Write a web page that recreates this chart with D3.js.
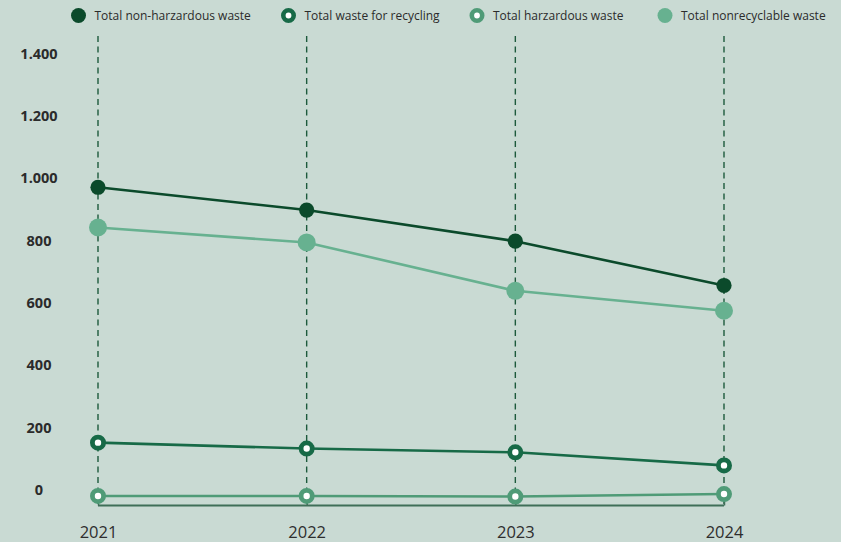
<!DOCTYPE html>
<html>
<head>
<meta charset="utf-8">
<script src="https://cdn.jsdelivr.net/npm/d3@7/dist/d3.min.js"></script>
<style>
  html, body { margin: 0; padding: 0; background: #c9dad3; }
  svg { display: block; }
</style>
</head>
<body>
<div id="plot"></div>
<script>
'use strict';

const years = ['2021', '2022', '2023', '2024'];
const yTicks = [0, 200, 400, 600, 800, 1000, 1200, 1400];
const nonHazardous = [995, 922, 822, 680];
const recycling = [176, 157, 145, 103];
const hazardous = [5, 5, 3, 11];
const nonRecyclable = [866, 818, 663, 599];

const col = {
  nonHaz: '#0b4a2b',
  recyc: '#176a47',
  haz: '#4f9b77',
  nonRec: '#67b190'
};

const width = 841, height = 542;
const svg = d3.select('#plot').append('svg')
  .attr('width', width)
  .attr('height', height);

svg.append('rect')
  .attr('width', width)
  .attr('height', height)
  .attr('fill', '#c9dad3');

const x = d3.scalePoint()
  .domain(years)
  .range([98, 724]);

const y = d3.scaleLinear()
  .domain([0, 1400])
  .range([497.5, 61]);

// dashed year guides
svg.append('g')
  .selectAll('line')
  .data(years)
  .enter()
  .append('line')
  .attr('x1', d => x(d))
  .attr('x2', d => x(d))
  .attr('y1', 36)
  .attr('y2', 505)
  .attr('stroke', '#1d5a3c')
  .attr('stroke-width', 1.4)
  .attr('stroke-dasharray', '6,4.5');

// bottom axis
const xAxis = d3.axisBottom(x).tickSize(0).tickPadding(18);
const gx = svg.append('g')
  .attr('transform', 'translate(0,505.5)')
  .call(xAxis);
gx.select('.domain')
  .attr('d', `M${x(years[0])},0H${x(years[3])}`)
  .attr('stroke', '#3f6f58')
  .attr('stroke-width', 2);
gx.selectAll('text')
  .attr('font-family', '"Open Sans", sans-serif')
  .attr('font-size', '16.5px')
  .attr('fill', '#2e2e2e')
  .attr('dy', '0.85em');
gx.selectAll('.tick').append('line')
  .attr('y1', 0).attr('y2', -6)
  .attr('stroke', '#3f6f58')
  .attr('stroke-width', 1.5);

// left axis (labels only)
const fmt = d => d3.format(',')(d).replace(/,/g, '.');
const yAxis = d3.axisLeft(y).tickValues(yTicks).tickFormat(fmt).tickSize(0);
const gy = svg.append('g')
  .attr('transform', 'translate(39,0)')
  .call(yAxis);
gy.select('.domain').remove();
gy.selectAll('text')
  .attr('x', 0)
  .attr('dy', '-0.2em')
  .attr('text-anchor', 'middle')
  .attr('font-family', '"Open Sans", sans-serif')
  .attr('font-weight', 'bold')
  .attr('font-size', '14.5px')
  .attr('fill', '#2b2b2b');

function line(values, color) {
  const gen = d3.line()
    .x((d, i) => x(years[i]))
    .y(d => y(d));
  svg.append('path')
    .attr('d', gen(values))
    .attr('fill', 'none')
    .attr('stroke', color)
    .attr('stroke-width', 2.6);
}

function dots(values, color, ring, r) {
  svg.append('g')
    .selectAll('circle')
    .data(values)
    .enter()
    .append('circle')
    .attr('cx', (d, i) => x(years[i]))
    .attr('cy', d => y(d))
    .attr('r', r)
    .attr('fill', ring ? '#fff' : color)
    .attr('stroke', ring ? color : 'none')
    .attr('stroke-width', ring ? 4.8 : 0);
}

line(hazardous, col.haz);
line(recycling, col.recyc);
line(nonRecyclable, col.nonRec);
line(nonHazardous, col.nonHaz);
dots(hazardous, col.haz, true, 5.6);
dots(recycling, col.recyc, true, 5.6);
dots(nonRecyclable, col.nonRec, false, 9);
dots(nonHazardous, col.nonHaz, false, 7.6);

// legend
const legend = [
  {name: 'Total non-harzardous waste', color: col.nonHaz, ring: false, cx: 78.5},
  {name: 'Total waste for recycling', color: col.recyc, ring: true, cx: 288.5},
  {name: 'Total harzardous waste', color: col.haz, ring: true, cx: 477},
  {name: 'Total nonrecyclable waste', color: col.nonRec, ring: false, cx: 665}
];
const lg = svg.append('g')
  .selectAll('g')
  .data(legend)
  .enter()
  .append('g')
  .attr('transform', d => `translate(${d.cx},15.5)`);
lg.append('circle')
  .attr('r', d => d.ring ? 5.2 : 7.5)
  .attr('fill', d => d.ring ? '#fff' : d.color)
  .attr('stroke', d => d.ring ? d.color : 'none')
  .attr('stroke-width', d => d.ring ? 4.6 : 0);
lg.append('text')
  .attr('x', 16)
  .attr('dy', '0.35em')
  .attr('font-family', '"Open Sans", sans-serif')
  .attr('font-size', '12px')
  .attr('fill', '#2b2b2b')
  .text(d => d.name);
</script>
</body>
</html>
